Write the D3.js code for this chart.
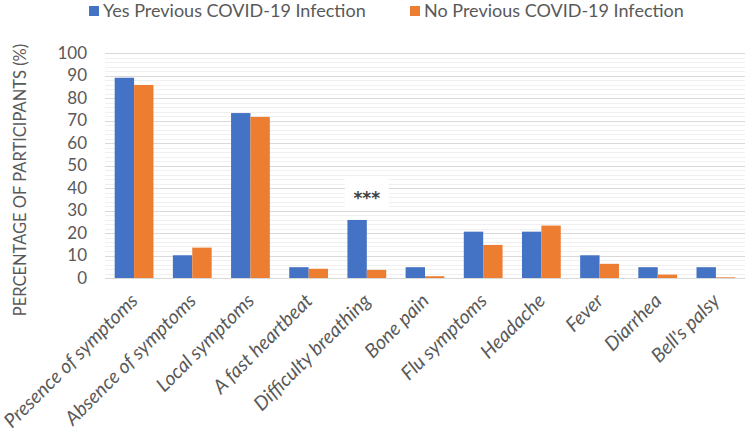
<!DOCTYPE html>
<html><head><meta charset="utf-8">
<script src="https://cdn.jsdelivr.net/npm/d3@7"></script>
<style>body{margin:0;background:#fff}svg{display:block}</style>
</head><body>
<script>
const categories = ["Presence of symptoms","Absence of symptoms","Local symptoms","A fast heartbeat","Difficulty breathing","Bone pain","Flu symptoms","Headache","Fever","Diarrhea","Bell's palsy"];
const seriesNames = ["Yes Previous COVID-19 Infection","No Previous COVID-19 Infection"];
const yesValues = [89.0, 10.1, 73.3, 4.8, 25.8, 4.8, 20.6, 20.6, 10.1, 4.8, 4.8];
const noValues  = [85.8, 13.5, 71.6, 4.1, 3.6, 0.8, 14.7, 23.3, 6.3, 1.5, 0.3];
const yTicks = [0,10,20,30,40,50,60,70,80,90,100];
const annotations = [{category:"Difficulty breathing", text:"***", value:37}];
const colors = ["#4472C4","#ED7D31"];

const W=750,H=432;
const m={left:105,right:5,top:53,bottom:154};
const svg=d3.select("body").append("svg").attr("width",W).attr("height",H);
const font="Lato, 'Open Sans', sans-serif";
const x=d3.scaleBand().domain(categories).range([m.left,W-m.right]).paddingInner(0).paddingOuter(0);
const y=d3.scaleLinear().domain([0,100]).range([H-m.bottom,m.top]);
const xs=d3.scaleBand().domain([0,1]).range([0,x.bandwidth()]).paddingInner(0).paddingOuter(0.5);

// minor grid
const g=svg.append("g");
g.selectAll("line.minor").data(d3.range(0,101,2)).join("line")
 .attr("x1",m.left).attr("x2",W-m.right).attr("y1",d=>Math.round(y(d))+0.5).attr("y2",d=>Math.round(y(d))+0.5)
 .attr("stroke","#f0f0f0").attr("stroke-width",1);
g.selectAll("line.major").data(yTicks).join("line")
 .attr("x1",m.left).attr("x2",W-m.right).attr("y1",d=>Math.round(y(d))+0.5).attr("y2",d=>Math.round(y(d))+0.5)
 .attr("stroke","#d9d9d9").attr("stroke-width",1);

// y axis labels
const yAxis=svg.append("g").attr("transform",`translate(${m.left-18},0)`)
 .call(d3.axisLeft(y).tickValues(yTicks).tickSize(0).tickPadding(0));
yAxis.select(".domain").remove();
yAxis.selectAll("text").attr("font-family",font).attr("font-size",17).attr("fill","#595959");

// bars
const data=categories.map((c,i)=>({c,vals:[yesValues[i],noValues[i]]}));
const grp=svg.append("g").selectAll("g").data(data).join("g").attr("transform",d=>`translate(${x(d.c)},0)`);
grp.selectAll("rect").data(d=>d.vals.map((v,k)=>({v,k}))).join("rect")
 .attr("x",d=>xs(d.k)).attr("width",xs.bandwidth())
 .attr("y",d=>y(d.v)).attr("height",d=>y(0)-y(d.v)).attr("fill",d=>colors[d.k]);

// baseline
svg.append("line").attr("x1",m.left).attr("x2",W-m.right).attr("y1",Math.round(y(0))+0.5).attr("y2",Math.round(y(0))+0.5).attr("stroke","#d9d9d9");

// annotation
annotations.forEach(a=>{
 const cx=x(a.category)+x.bandwidth()/2, cy=y(a.value);
 svg.append("rect").attr("x",cx-22).attr("y",cy-16).attr("width",44).attr("height",32).attr("fill","#fff");
 svg.append("text").attr("x",cx).attr("y",cy+9).attr("text-anchor","middle").attr("font-family","'DejaVu Sans', sans-serif").attr("font-weight","bold").attr("font-size",17).attr("fill","#404040").text(a.text);
});

// x labels
const xAxis=svg.append("g").attr("transform",`translate(0,${y(0)})`)
 .call(d3.axisBottom(x).tickSize(0).tickPadding(0));
xAxis.select(".domain").remove();
xAxis.selectAll("text").attr("font-family",font).attr("font-size",19.5).attr("font-style","italic").attr("fill","#595959")
 .attr("text-anchor","end").attr("dy",0).attr("y",0)
 .attr("transform","translate(5,24) rotate(-45)");

// y title
svg.append("text").attr("transform",`translate(26,180) rotate(-90)`).attr("text-anchor","middle")
 .attr("font-family",font).attr("font-size",16.5).attr("fill","#595959").text("PERCENTAGE OF PARTICIPANTS (%)");

// legend
const leg=[{x:89},{x:410}];
seriesNames.forEach((s,i)=>{
 svg.append("rect").attr("x",leg[i].x).attr("y",6).attr("width",10).attr("height",10).attr("fill",colors[i]);
 svg.append("text").attr("x",leg[i].x+14).attr("y",17).attr("font-family",font).attr("font-size",18).attr("fill","#595959").text(s);
});
</script>
</body></html>
